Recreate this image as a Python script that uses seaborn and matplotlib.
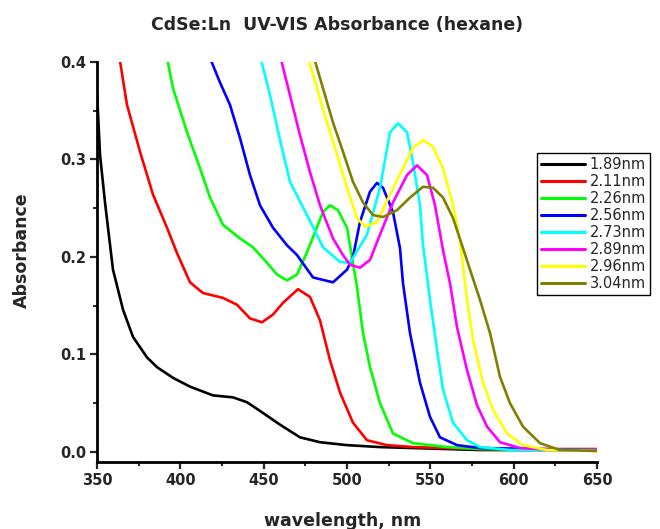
import matplotlib
matplotlib.use("Agg")
import matplotlib.pyplot as plt
import seaborn as sns
import pandas as pd
from matplotlib.ticker import MultipleLocator

sizes = ["1.89nm", "2.11nm", "2.26nm", "2.56nm", "2.73nm", "2.89nm", "2.96nm", "3.04nm"]
colors = ["#000000", "#FF0000", "#00FF00", "#0000FF", "#00FFFF", "#FF00FF", "#FFFF00", "#808000"]

wl_189 = [350.0, 351.8, 354.8, 358.4, 359.6, 365.6, 371.6, 380, 386, 395.6, 405.8, 419.6, 431.6, 440,
          449.6, 459.8, 471.8, 483.8, 500, 519.8, 579.8, 650]
ab_189 = [0.369, 0.305, 0.256, 0.204, 0.187, 0.146, 0.118, 0.097, 0.087, 0.076, 0.067, 0.058, 0.056, 0.051,
          0.040, 0.028, 0.015, 0.010, 0.007, 0.005, 0.002, 0.002]

wl_211 = [362.5, 368, 375.8, 383.6, 392, 398, 405.8, 413.6, 425.6, 434, 441.8, 449, 455.6, 461.6, 470.6,
          477.8, 483.8, 489.8, 495.8, 503.6, 512, 524, 539.6, 579.8, 650]
ab_211 = [0.415, 0.356, 0.308, 0.264, 0.230, 0.204, 0.174, 0.163, 0.158, 0.151, 0.137, 0.133, 0.141, 0.153, 0.167,
          0.159, 0.135, 0.094, 0.061, 0.030, 0.012, 0.007, 0.005, 0.003, 0.003]

wl_226 = [390.8, 395.6, 404, 411.8, 417.8, 425.6, 435.8, 443.6, 452, 458, 464, 470, 476, 485.6, 489.8, 494.6,
          500, 506, 509.6, 513.8, 519.8, 527.6, 539.6, 560, 579.8, 650]
ab_226 = [0.415, 0.373, 0.328, 0.291, 0.261, 0.233, 0.219, 0.210, 0.194, 0.182, 0.176, 0.182, 0.205, 0.246, 0.253,
          0.248, 0.230, 0.169, 0.122, 0.087, 0.050, 0.019, 0.009, 0.005, 0.003, 0.002]

wl_256 = [415.2, 423.8, 429.8, 435.8, 441.8, 447.8, 455.6, 464, 470, 479.6, 491.6, 500, 503.6, 507.8, 513.8, 518,
          521.6, 527.6, 531.8, 533.6, 537.8, 543.8, 549.8, 555.8, 566, 579.8, 650]
ab_256 = [0.415, 0.379, 0.356, 0.322, 0.284, 0.253, 0.230, 0.212, 0.202, 0.179, 0.174, 0.187, 0.200, 0.236, 0.267, 0.276,
          0.271, 0.246, 0.209, 0.173, 0.122, 0.071, 0.036, 0.015, 0.007, 0.004, 0.002]

wl_273 = [446.6, 453.8, 459.8, 465.8, 476, 485.6, 495.8, 501.8, 512, 519.8, 525.8, 530.6, 536, 539.6, 543.8,
          545.6, 549.8, 554, 557.6, 563.6, 572, 579.8, 597.8, 650]
ab_273 = [0.415, 0.366, 0.320, 0.277, 0.243, 0.210, 0.195, 0.194, 0.223, 0.271, 0.328, 0.337, 0.328, 0.297, 0.253,
          0.212, 0.156, 0.105, 0.064, 0.030, 0.012, 0.005, 0.002, 0.002]

wl_289 = [458.6, 465.8, 471.8, 477.8, 483.8, 491.6, 497.6, 501.8, 507.8, 513.8, 519.8, 527.6, 536, 542, 548,
          552.8, 557.6, 561.8, 566, 572, 578, 584, 591.8, 603.8, 627.8, 650]
ab_289 = [0.415, 0.366, 0.325, 0.287, 0.253, 0.219, 0.202, 0.192, 0.189, 0.197, 0.223, 0.256, 0.284, 0.294, 0.284,
          0.253, 0.207, 0.173, 0.128, 0.084, 0.048, 0.026, 0.010, 0.004, 0.002, 0.002]

wl_296 = [474.8, 482, 488, 494, 500, 506, 510.8, 518, 525.8, 533.6, 539.6, 545.6, 551.6, 557.6, 563.6, 567.8,
          572, 575.6, 581.6, 587.6, 596, 605.6, 620, 650]
ab_296 = [0.415, 0.373, 0.338, 0.305, 0.271, 0.240, 0.231, 0.236, 0.264, 0.291, 0.312, 0.320, 0.313, 0.291, 0.253,
          0.217, 0.156, 0.115, 0.071, 0.043, 0.019, 0.007, 0.002, 0.001]

wl_304 = [478.4, 485.6, 491.6, 497.6, 503.6, 509.6, 515.6, 521.6, 530, 537.8, 545.6, 551.6, 557.6, 563.6, 569.6,
          573.8, 579.8, 585.8, 591.8, 597.8, 605.6, 615.8, 627.8, 650]
ab_304 = [0.415, 0.373, 0.338, 0.308, 0.277, 0.256, 0.243, 0.241, 0.248, 0.261, 0.272, 0.271, 0.261, 0.240, 0.209,
          0.187, 0.156, 0.122, 0.077, 0.050, 0.026, 0.009, 0.002, 0.001]

wls = [wl_189, wl_211, wl_226, wl_256, wl_273, wl_289, wl_296, wl_304]
abs_ = [ab_189, ab_211, ab_226, ab_256, ab_273, ab_289, ab_296, ab_304]

rows = []
for s, w, a in zip(sizes, wls, abs_):
    for i, (x, y) in enumerate(zip(w, a)):
        rows.append({"size": s, "wavelength": x, "absorbance": y, "order": i})
df = pd.DataFrame(rows)

sns.set_style("white")
plt.rcParams["font.family"] = ["DejaVu Sans"]

fig = plt.figure(figsize=(6.6, 5.29), dpi=100)
ax = fig.add_axes([97 / 660, 1 - 462 / 529, 500 / 660, 400 / 529])

sns.lineplot(data=df, x="wavelength", y="absorbance", hue="size", hue_order=sizes,
             palette=colors, sort=False, estimator=None, linewidth=1.9, ax=ax, legend=True)

ax.set_xlim(350, 650)
ax.set_ylim(-0.0103, 0.4)
ax.xaxis.set_major_locator(MultipleLocator(50))
ax.xaxis.set_minor_locator(MultipleLocator(25))
ax.yaxis.set_major_locator(MultipleLocator(0.1))
ax.yaxis.set_minor_locator(MultipleLocator(0.05))
ax.tick_params(which="major", direction="out", length=5, width=1.6, labelsize=10.5,
               left=True, bottom=True, pad=3)
ax.tick_params(which="minor", direction="out", length=3, width=1.4, left=True, bottom=True)
for lab in ax.get_xticklabels() + ax.get_yticklabels():
    lab.set_fontweight("bold")
ax.set_yticks([0.0, 0.1, 0.2, 0.3, 0.4])
ax.set_yticklabels(["0.0", "0.1", "0.2", "0.3", "0.4"], fontweight="bold")

for side in ["top", "right"]:
    ax.spines[side].set_visible(False)
for side in ["left", "bottom"]:
    ax.spines[side].set_linewidth(2)
    ax.spines[side].set_color("black")

ax.set_xlabel("")
ax.set_ylabel("")
fig.text(343 / 660, 1 - 521 / 529, "wavelength, nm", ha="center", va="center",
         fontsize=12.5, fontweight="bold")
fig.text(22 / 660, 1 - 250 / 529, "Absorbance", ha="center", va="center", rotation=90,
         fontsize=12.5, fontweight="bold")
fig.text(337 / 660, 1 - 25 / 529, "CdSe:Ln  UV-VIS Absorbance (hexane)", ha="center", va="center",
         fontsize=12.5, fontweight="bold")

handles, labels = ax.get_legend_handles_labels()
leg = ax.legend(handles, labels, loc="upper left", bbox_to_anchor=(537 / 660, 1 - 153 / 529),
                bbox_transform=fig.transFigure, frameon=True, fancybox=False, fontsize=10.5,
                borderaxespad=0, borderpad=0.3, labelspacing=0.13, handlelength=3.0,
                handletextpad=0.3, edgecolor="black", framealpha=1)
leg.get_frame().set_linewidth(1.0)
for line in leg.get_lines():
    line.set_linewidth(2.2)

fig.savefig("out.png", dpi=100)
